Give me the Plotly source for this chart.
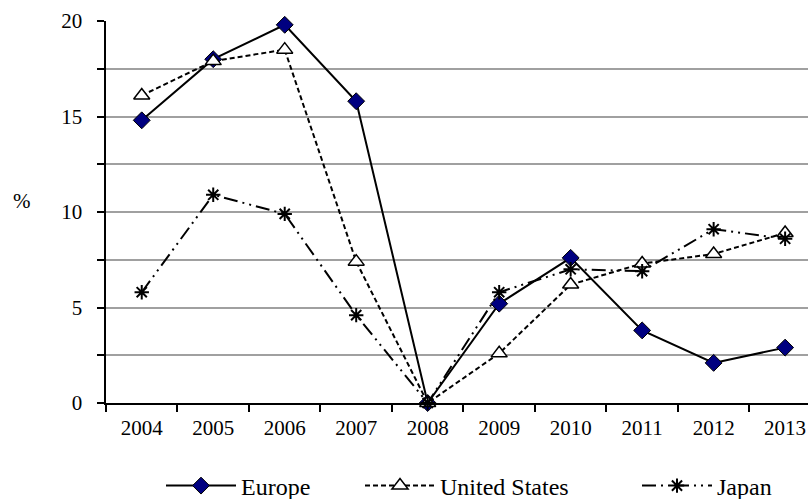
import plotly.graph_objects as go

# Annual growth rates (%) by region
years = ["2004", "2005", "2006", "2007", "2008", "2009", "2010", "2011", "2012", "2013"]
europe = [14.8, 18.0, 19.8, 15.8, 0.0, 5.2, 7.6, 3.8, 2.1, 2.9]
united_states = [16.1, 17.9, 18.5, 7.4, 0.0, 2.6, 6.2, 7.3, 7.8, 8.9]
japan = [5.8, 10.9, 9.9, 4.6, 0.0, 5.8, 7.0, 6.9, 9.1, 8.6]

FONT = "Liberation Serif"

fig = go.Figure()

fig.add_trace(go.Scatter(
    x=years, y=europe, name="Europe", mode="lines+markers",
    line=dict(color="black", width=2),
    marker=dict(symbol="diamond", size=13, color="#000080",
                line=dict(color="black", width=1)),
    cliponaxis=False, legend="legend",
))
fig.add_trace(go.Scatter(
    x=years, y=united_states, name="United States", mode="lines+markers",
    line=dict(color="black", width=2, dash="5px,3px"),
    marker=dict(symbol="triangle-up", size=14, color="white",
                line=dict(color="black", width=1.5)),
    cliponaxis=False, legend="legend2",
))
fig.add_trace(go.Scatter(
    x=years, y=japan, name="Japan", mode="lines+markers",
    line=dict(color="black", width=2, dash="14px,5px,2px,5px,2px,5px"),
    marker=dict(symbol="asterisk-open", size=12, color="black",
                line=dict(color="black", width=2)),
    cliponaxis=False, legend="legend3",
))

legend_common = dict(
    orientation="h", xref="container", yref="container",
    yanchor="middle", itemwidth=70, bgcolor="rgba(0,0,0,0)",
    font=dict(family=FONT, size=24, color="black"),
)
LEG_Y = 1 - 486 / 499

fig.update_layout(
    width=808, height=499,
    margin=dict(l=106, r=0, t=21, b=96),
    paper_bgcolor="white", plot_bgcolor="white",
    font=dict(family=FONT, size=21, color="black"),
    showlegend=True,
    legend=dict(x=161 / 808, y=LEG_Y, **legend_common),
    legend2=dict(x=360 / 808, y=LEG_Y, **legend_common),
    legend3=dict(x=637 / 808, y=LEG_Y, **legend_common),
    xaxis=dict(
        type="category", range=[-0.5, 9.32],
        showline=True, linecolor="black", linewidth=2,
        ticks="outside", ticklen=7, tickwidth=1.5, tickcolor="black",
        tickson="boundaries", showgrid=False, zeroline=False,
        ticklabelstandoff=5,
        tickfont=dict(family=FONT, size=21, color="black"),
    ),
    yaxis=dict(
        range=[0, 20], dtick=5, tick0=0,
        showline=True, linecolor="black", linewidth=2,
        ticks="outside", ticklen=7, tickwidth=1.5, tickcolor="black",
        showgrid=True, gridcolor="#a0a0a0", gridwidth=2,
        zeroline=False, ticksuffix="\u2002",
        tickfont=dict(family=FONT, size=21, color="black"),
        minor=dict(dtick=2.5, showgrid=True, gridcolor="#a0a0a0", gridwidth=2,
                   ticks="outside", ticklen=7, tickwidth=1.5, tickcolor="black"),
    ),
    annotations=[dict(
        text="%", xref="paper", yref="paper", x=-0.119, y=0.53,
        xanchor="center", yanchor="middle", showarrow=False,
        font=dict(family=FONT, size=21, color="black"),
    )],
)

fig.write_html("out.html")
